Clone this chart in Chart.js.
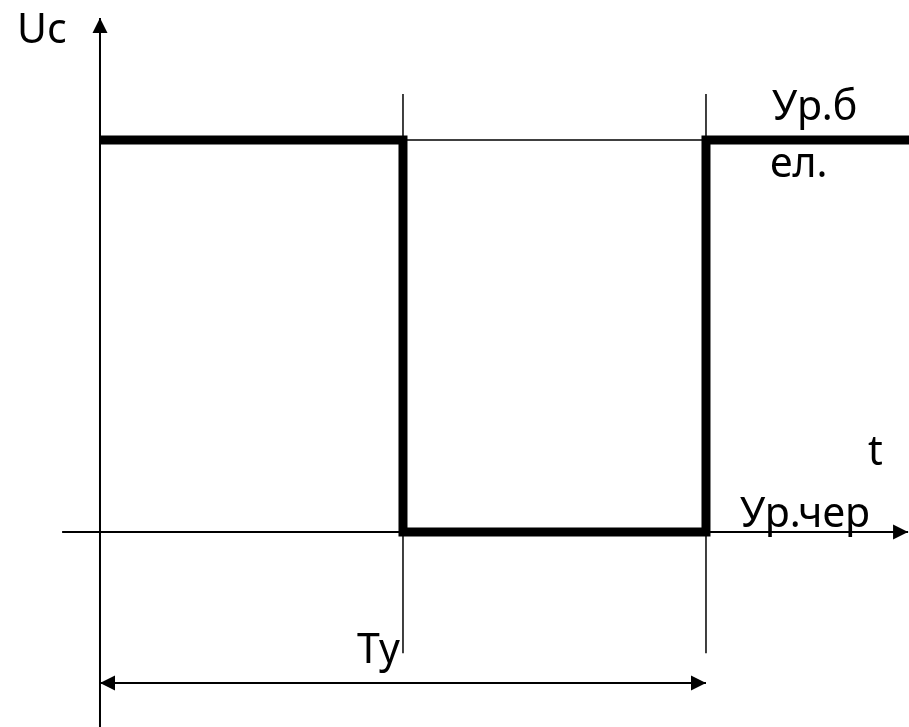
<!DOCTYPE html>
<html>
<head>
<meta charset="utf-8">
<script src="https://cdn.jsdelivr.net/npm/chart.js@4.4.1/dist/chart.umd.min.js"></script>
<style>
  html, body { margin: 0; padding: 0; background: #fff; }
  #wrap { width: 909px; height: 727px; position: relative; }
</style>
</head>
<body>
<div id="wrap"><canvas id="chart"></canvas></div>
<script>
// signal: time in periods, level 0 = black, 1 = white
const signalTime = [0, 1, 1, 2, 2, 2.67];
const signalLevel = [1, 1, 0, 0, 1, 1];
const switchTimes = [1, 2];
const levelHigh = 1;
const periodStart = 0;
const periodEnd = 2;

// text labels, anchored in data units (left, baseline)
const labelTexts = ["Uc", "Ур.б", "ел.", "t", "Ур.чер", "Ту"];
const labelTime = [-0.274, 2.218, 2.211, 2.535, 2.112, 0.848];
const labelLevel = [1.247, 1.051, 0.906, 0.171, 0.0128, -0.334];

const X_MIN = -0.33, X_MAX = 2.67;
const Y_MIN = -0.4974, Y_MAX = 1.357;
const INK = "#000000";

const pts = (xs, ys) => xs.map((x, i) => ({ x, y: ys[i] }));

function lineSet(data, width, extra) {
    return Object.assign({
        data,
        borderColor: INK,
        borderWidth: width,
        pointRadius: 0,
        tension: 0,
        fill: false,
        clip: false,
        borderCapStyle: "butt",
        borderJoinStyle: "miter",
    }, extra || {});
}

const datasets = [
    // axes
    lineSet(pts([periodStart, periodStart], [Y_MIN, 1.311]), 2, { arrows: ["end"] }),
    lineSet(pts([-0.125, 2.667], [0, 0]), 2, { arrows: ["end"] }),
    // thin guides at switching moments
    ...switchTimes.map((t) => lineSet(pts([t, t], [-0.309, 1.117]), 1.5)),
    lineSet(pts([switchTimes[0], switchTimes[1]], [levelHigh, levelHigh]), 1.5),
    // period dimension arrow
    lineSet(pts([periodStart, periodEnd], [-0.385, -0.385]), 2, { arrows: ["start", "end"] }),
    // signal
    lineSet(pts(signalTime, signalLevel), 9),
];

const arrowPlugin = {
    id: "arrowHeads",
    afterDatasetsDraw(chart) {
        const { ctx, scales } = chart;
        chart.data.datasets.forEach((ds) => {
            if (!ds.arrows) return;
            const p = ds.data.map((d) => [scales.x.getPixelForValue(d.x), scales.y.getPixelForValue(d.y)]);
            ds.arrows.forEach((where) => {
                const tip = where === "end" ? p[p.length - 1] : p[0];
                const from = where === "end" ? p[p.length - 2] : p[1];
                const ang = Math.atan2(tip[1] - from[1], tip[0] - from[0]);
                const len = 15, half = 7.5;
                ctx.save();
                ctx.translate(tip[0], tip[1]);
                ctx.rotate(ang);
                ctx.beginPath();
                ctx.moveTo(0, 0);
                ctx.lineTo(-len, -half);
                ctx.lineTo(-len, half);
                ctx.closePath();
                ctx.fillStyle = INK;
                ctx.fill();
                ctx.restore();
            });
        });
    },
};

const labelPlugin = {
    id: "labels",
    afterDraw(chart) {
        const { ctx, scales } = chart;
        ctx.save();
        ctx.fillStyle = INK;
        ctx.textBaseline = "alphabetic";
        ctx.textAlign = "left";
        ctx.font = "41px 'Noto Sans', sans-serif";
        labelTexts.forEach((txt, i) => {
            ctx.fillText(txt, scales.x.getPixelForValue(labelTime[i]), scales.y.getPixelForValue(labelLevel[i]));
        });
        ctx.restore();
    },
};

new Chart(document.getElementById("chart"), {
    type: "line",
    data: { datasets },
    options: {
        responsive: true,
        maintainAspectRatio: false,
        animation: false,
        layout: { padding: 0 },
        plugins: { legend: { display: false }, tooltip: { enabled: false } },
        scales: {
            x: { type: "linear", min: X_MIN, max: X_MAX, display: false },
            y: { type: "linear", min: Y_MIN, max: Y_MAX, display: false },
        },
    },
    plugins: [arrowPlugin, labelPlugin],
});
</script>
</body>
</html>
